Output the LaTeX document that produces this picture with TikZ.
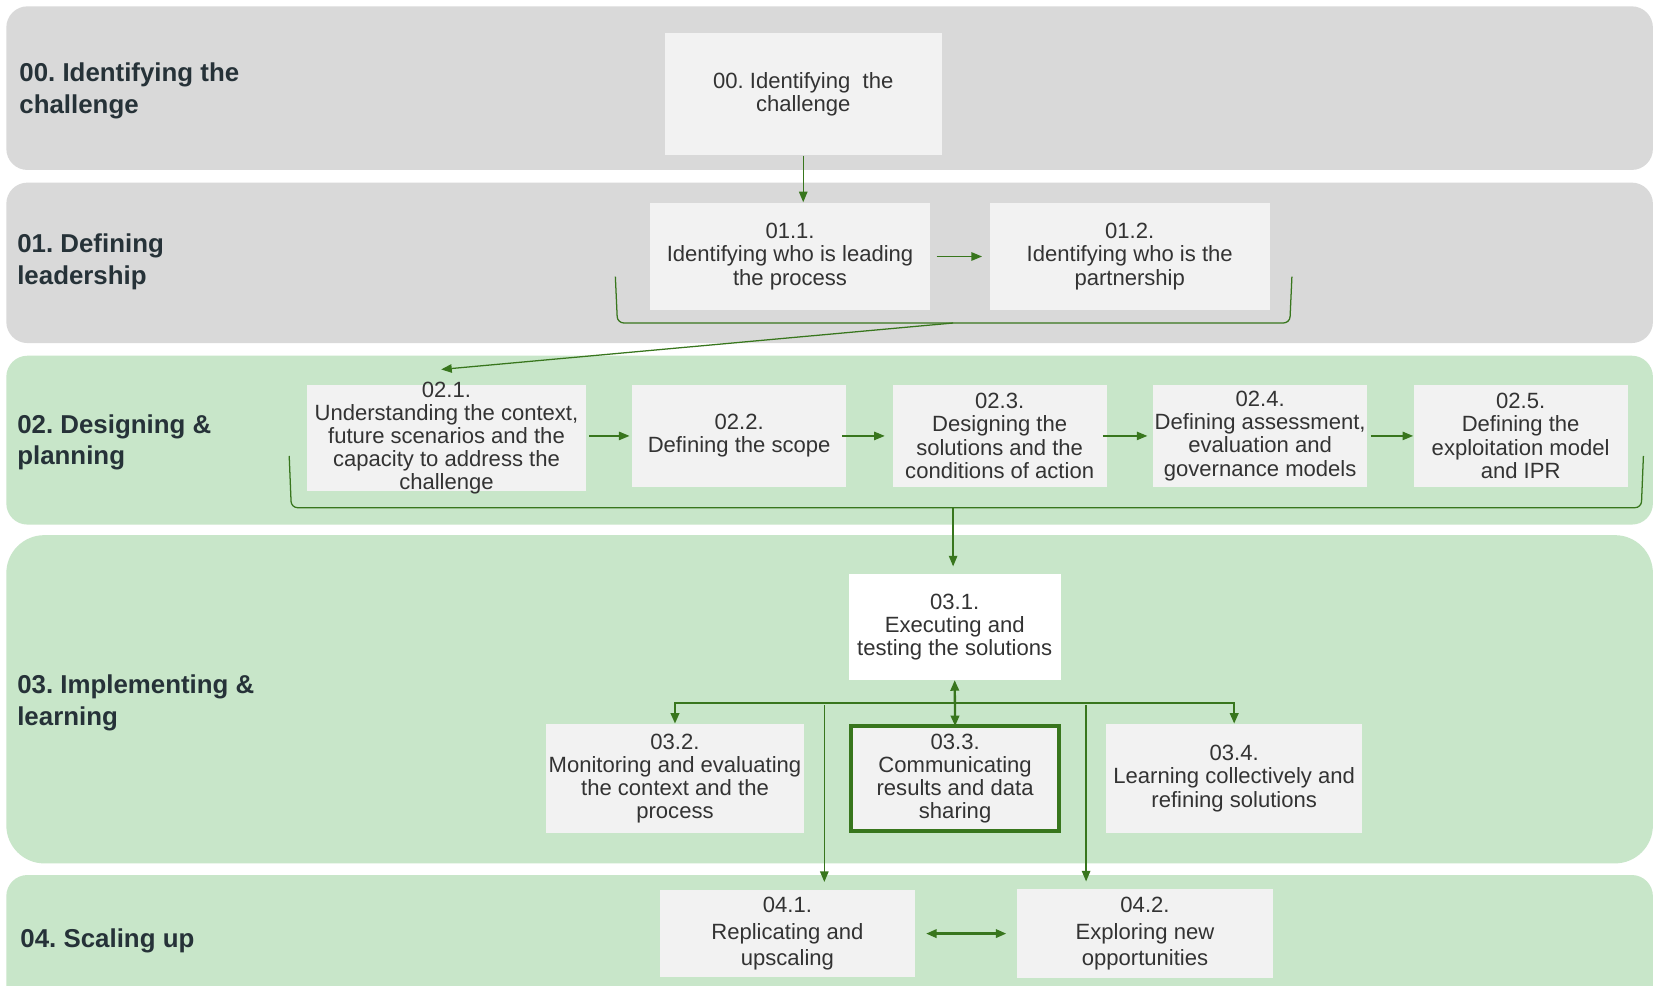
\documentclass[tikz,border=0pt]{standalone}
\usepackage{fontspec}
\setmainfont{Liberation Sans}
\usetikzlibrary{
  arrows.meta,
  positioning,  % right=of ...
  calc,
}
\frenchspacing
\definecolor{bandgray}{HTML}{D9D9D9}
\definecolor{bandgreen}{HTML}{C8E6C9}
\definecolor{boxgray}{HTML}{F2F2F2}
\definecolor{flowgreen}{HTML}{38761D}
\definecolor{labelink}{HTML}{263238}
\definecolor{boxink}{HTML}{333333}
\def\mypx{0.5pt}
\def\mygap{21.5pt}
\tikzset{
  >={Triangle[length=5pt,width=4pt]},
  band/.style={
    rounded corners=10pt
  },
  phase label/.style={
    anchor=west,
    align=left,
    text=labelink,
    inner sep=0pt,
    font=\fontsize{12.25}{15}\selectfont\bfseries
  },
  stage/.style={
    fill=boxgray,
    text=boxink,
    align=center,
    inner sep=0pt,
    font=\fontsize{10.45}{11}\selectfont
  },
  key stage/.style={
    stage,
    draw=flowgreen,
    line width=2pt,
    outer sep=0pt
  },
  wide stage/.style={
    stage,
    font=\fontsize{10.45}{12.5}\selectfont
  },
  flow/.style={
    ->,
    draw=flowgreen,
    line width=0.6pt
  },
  flow thick/.style={
    draw=flowgreen,
    line width=1.1pt
  },
  bracket/.style={
    draw=flowgreen,
    line width=0.6pt,
    rounded corners=3pt
  }
}

\begin{document}
\begin{tikzpicture}[x=\mypx,y=-\mypx]
\useasboundingbox (0,0) rectangle (1568,934);
\clip (0,0) rectangle (1568,934);
\fill[white] (0,0) rectangle (1568,934);
% bands
\fill[bandgray,band]  (6,6)   rectangle (1566,161);
\fill[bandgray,band]  (6,173) rectangle (1566,325);
\fill[bandgreen,band] (6,337) rectangle (1566,497);
\fill[bandgreen,band,rounded corners=18pt] (6,507) rectangle (1566,818);
\fill[bandgreen,band] (6,829) rectangle (1566,970);

\node[phase label] (lab0) at (18,86)  {00. Identifying the\\challenge};
\node[phase label] (lab1) at (16,248) {01. Defining\\leadership};
\node[phase label] (lab2) at (16,419) {02. Designing \&\\planning};
\node[phase label] (lab3) at (16,666) {03. Implementing \&\\learning};
\node[phase label] (lab4) at (19,891) {04. Scaling up};

% 00 and 01
\node[stage,minimum width=131pt,minimum height=58pt] (b00) at (761,89)
  {00. Identifying\ \ the\\challenge};
\node[stage,minimum width=132.5pt,minimum height=51pt] (b11) at (748.5,243)
  {01.1.\\Identifying who is leading\\the process};
\node[stage,minimum width=132.5pt,minimum height=51pt] (b12) [right=28pt of b11]
  {01.2.\\Identifying who is the\\partnership};

% 02
\node[stage,minimum width=132pt,minimum height=50pt,inner ysep=-2.5pt] (b21) at (423,415)
  {02.1.\\Understanding the context,\\future scenarios and the\\capacity to address the\\challenge};
\node[stage,minimum width=101.5pt,minimum height=48pt] (b22)
  [right=\mygap of b21.north east,anchor=north west]
  {02.2.\\Defining the scope};
\node[stage,minimum width=101.5pt,minimum height=48pt] (b23) [right=\mygap of b22]
  {02.3.\\Designing the\\solutions and the\\conditions of action};
\node[stage,minimum width=101.5pt,minimum height=48pt] (b24) [right=\mygap of b23]
  {02.4.\\Defining assessment,\\evaluation and\\governance models};
\node[stage,minimum width=101.5pt,minimum height=48pt] (b25) [right=\mygap of b24]
  {02.5.\\Defining the\\exploitation model\\and IPR};

% 03
\node[stage,fill=white,minimum width=100.5pt,minimum height=50pt] (b31) at (904.5,594)
  {03.1.\\Executing and\\testing the solutions};
\node[stage,minimum width=122.5pt,minimum height=51.5pt] (b32) at (639.5,737.5)
  {03.2.\\Monitoring and evaluating\\the context and the\\process};
\node[key stage,minimum width=98.5pt,minimum height=49.5pt] (b33) [right=22pt of b32]
  {03.3.\\Communicating\\results and data\\sharing};
\node[stage,minimum width=121.5pt,minimum height=51.5pt] (b34) [right=22pt of b33]
  {03.4.\\Learning collectively and\\refining solutions};

% 04
\node[wide stage,minimum width=121pt,minimum height=41.5pt] (b41) at (746,884.5)
  {04.1.\\Replicating and\\upscaling};
\node[wide stage,minimum width=121pt,minimum height=42pt] (b42) [right=48pt of b41]
  {04.2.\\Exploring new\\opportunities};

% connectors
\draw[flow] (b00.south) -- (b00.south |- b11.north);
\draw[flow,shorten <=3pt,shorten >=3.5pt] (b11) -- (b12);

\coordinate (brk1) at (903,306);
\coordinate (into21) at (418,350);
\draw[bracket] (583,262) -- (585,306) -- (1222,306) -- (1224,262);
\draw[flow] (brk1) -- (into21);

\draw[flow,shorten <=1.5pt,shorten >=1pt] (b21.east |- b22) -- (b22);
\draw[flow,shorten <=-2pt,shorten >=3.5pt] (b22) -- (b23);
\draw[flow,shorten <=-2pt,shorten >=2.5pt] (b23) -- (b24);
\draw[flow,shorten <=1.5pt,shorten >=0pt] (b24) -- (b25);

\coordinate (brk2) at (903,481);
\draw[bracket] (274,432) -- (276,481) -- (1555,481) -- (1557,432);
\draw[flow,shorten >=3.5pt] (brk2) -- (brk2 |- b31.north);

\coordinate (hub) at ($(b31.south)!0.5!(b33.north)$);
\draw[flow thick,<->] (b32.north) |- (hub) -| (b34.north);
\draw[flow thick,<->] (b31.south) -- (b33.north);

\coordinate (split41) at (781,668);
\coordinate (split42) at (1029,668);
\draw[flow,shorten >=3.5pt] (split41) -- (split41 |- b41.north);
\draw[flow,shorten >=3.5pt] (split42) -- (split42 |- b42.north);

\draw[flow thick,<->,shorten <=5pt,shorten >=5pt] (b41) -- (b42);
\end{tikzpicture}
\end{document}
